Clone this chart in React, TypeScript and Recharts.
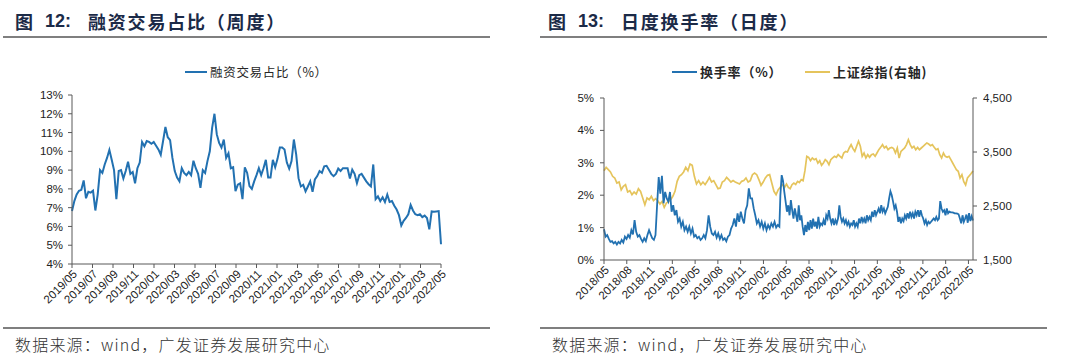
import React from 'react';
import { LineChart, Line, XAxis, YAxis } from 'recharts';

// ---------- Figure 12: weekly margin-trading share (%) ----------
const marginTickLabels = [
  '2019/05', '2019/07', '2019/09', '2019/11', '2020/01', '2020/03', '2020/05', '2020/07', '2020/09', '2020/11',
  '2021/01', '2021/03', '2021/05', '2021/07', '2021/09', '2021/11', '2022/01', '2022/03', '2022/05',
];
const marginShare = [
  6.82, 7.35, 7.7, 7.9, 7.95, 8.45, 7.5, 7.85, 7.8, 7.9, 6.85, 7.7, 9.0, 8.85, 9.3, 9.65, 10.08, 9.55, 9.0, 7.45,
  8.95, 9.0, 8.55, 8.95, 9.45, 8.8, 8.9, 8.3, 9.1, 9.4, 10.5, 10.27, 10.55, 10.5, 10.4, 10.5, 10.3, 10.1, 9.82, 10.55,
  11.3, 10.75, 10.6, 9.65, 8.95, 8.6, 8.4, 9.1, 8.85, 8.73, 8.9, 8.73, 9.5, 9.1, 8.8, 8.05, 9.0, 8.85, 9.48, 10.0,
  11.25, 12.0, 10.9, 10.45, 10.2, 10.63, 9.65, 9.9, 9.1, 9.15, 7.88, 8.23, 8.3, 7.45, 9.15, 8.85, 8.15, 8.0,
  8.4, 8.73, 9.1, 8.73, 9.1, 9.55, 8.6, 8.6, 9.55, 9.15, 9.6, 10.2, 10.2, 10.1, 9.4, 9.08, 9.48, 10.63,
  9.82, 8.57, 8.13, 8.22, 7.87, 8.13, 8.4, 7.85, 8.5, 8.68, 8.95, 8.85, 9.2, 9.23, 9.02, 8.8, 8.68, 8.8, 9.08, 8.95,
  9.1, 9.1, 9.1, 8.55, 9.02, 8.8, 8.3, 8.73, 8.8, 8.6, 8.4, 8.25, 8.13, 9.3,
  7.45, 7.6, 7.35, 7.55, 7.3, 7.7, 7.3, 7.35, 7.1, 6.9, 6.6, 6.05,
  6.3, 6.45, 6.65, 7.15, 6.85, 6.65, 6.6, 6.65, 6.5, 6.58, 6.45, 5.85,
  6.8, 6.78, 6.8, 6.82, 5.05,
];
const marginSpanMonths = 36;

// ---------- Figure 13: daily turnover (%) and SSE Composite (right axis) ----------
const turnoverTickLabels = [
  '2018/05', '2018/08', '2018/11', '2019/02', '2019/05', '2019/08', '2019/11', '2020/02', '2020/05',
  '2020/08', '2020/11', '2021/02', '2021/05', '2021/08', '2021/11', '2022/02', '2022/05',
];
// 2018/05 - 2020/05
const turnoverEarly = [
  0.95, 0.72, 0.77, 0.65, 0.56, 0.58, 0.51, 0.56, 0.48, 0.56, 0.51, 0.62, 0.54, 0.72, 0.65, 0.77, 0.69, 0.92, 0.79, 1.23,
  0.87, 0.72, 0.77, 0.65, 0.56, 0.67, 0.58, 0.77, 0.92, 0.79, 0.67, 0.62, 0.77,
  1.7, 2.56, 2.05, 2.6, 1.75, 2.1, 1.9, 1.8, 2.1, 1.49, 1.69, 1.38, 1.54, 1.18, 1.28, 1.03, 1.18, 0.92, 1.03, 0.87,
  1.03, 0.82, 0.97, 0.72, 0.77, 0.67, 0.72, 0.62, 0.67, 0.77, 0.67, 0.92, 1.38, 1.03, 0.82, 0.77, 0.87, 0.69, 0.82,
  0.65, 0.77, 0.62, 0.67, 0.58, 0.72, 0.77, 0.97, 1.08, 1.28, 1.03, 1.44, 1.18, 1.49, 1.28, 1.13, 1.54, 1.69, 2.21,
  1.9, 1.9, 1.6, 1.38, 1.13, 1.23, 1.03, 1.18, 0.97, 1.13, 0.92, 1.08, 0.97, 1.13, 1.03, 1.18, 1.0, 1.08, 1.03,
];
// 2020/05 - 2022/05
const turnoverLate = [
  2.0, 2.62, 2.45, 2.1, 1.8, 1.49, 1.69, 1.38, 1.85, 1.54, 1.28, 1.59, 1.38, 1.18, 1.69, 1.23, 1.38, 1.03, 0.77, 1.08,
  0.87, 1.18, 0.92, 1.23, 0.97, 1.28, 1.03, 1.18, 0.97, 1.33, 1.03, 1.13, 1.08, 1.23, 1.08, 1.38, 1.28, 1.54, 1.28, 1.13,
  1.28, 1.08, 1.23, 1.13, 1.28, 1.69, 1.33, 1.18, 1.28, 1.13, 1.23, 1.08, 1.18, 1.03, 1.13, 1.08, 1.23, 1.03, 1.13, 1.03,
  1.28, 1.13, 1.33, 1.18, 1.28, 1.13, 1.38, 1.23, 1.33, 1.23, 1.49, 1.33, 1.54, 1.38, 1.49, 1.59, 1.44, 1.69, 1.49, 1.59,
  1.44, 1.54, 1.64, 1.9, 2.12, 2.0, 1.8, 1.59, 1.69, 1.49, 1.18, 1.33, 1.13, 1.28, 1.2, 1.38, 1.28, 1.44, 1.28, 1.49,
  1.33, 1.44, 1.28, 1.49, 1.38, 1.54, 1.33, 1.54, 1.38, 1.28, 1.13, 1.23, 1.08, 1.18, 1.13, 1.18, 1.23, 1.28, 1.23, 1.33,
  1.23, 1.28, 1.82, 1.59, 1.49, 1.54, 1.38, 1.59, 1.44, 1.49, 1.47, 1.47, 1.46, 1.44, 1.44, 1.43, 1.41, 1.28, 1.13, 1.38,
  1.18, 1.28, 1.4, 1.15, 1.45, 1.2, 1.35, 1.22,
];
const sseEarly = [
  3154, 3216, 3173, 3130, 3050, 3019, 2926, 2944, 2800, 2864, 2895, 2759, 2784, 2710, 2759, 2722, 2820, 2770, 2648, 2525,
  2648, 2617, 2679, 2598, 2636, 2598, 2537, 2586, 2475, 2555, 2586, 2617, 2679, 2772, 2957, 3050, 3080, 3130, 3216, 3154,
  3278, 3253, 3050, 2907, 2970, 2895, 2944, 2895, 2957, 3031, 2944, 2970, 2895, 2821, 2833, 2944, 2970, 3031, 2988, 2944,
  2970, 2944, 2926, 2907, 2957, 2970, 3019, 2944, 2970, 3080, 3111, 3080, 2988, 2883, 2944, 3019, 3068, 3080, 2926, 2772,
  2710, 2802,
];
const sseLate = [
  2821, 2864, 2895, 2846, 2907, 2846, 2821, 2895, 2926, 2900, 2957, 2935, 2988, 2970, 3154, 3420, 3400, 3340, 3389, 3358,
  3377, 3296, 3340, 3253, 3296, 3358, 3327, 3265, 3358, 3389, 3420, 3401, 3451, 3420, 3389, 3481, 3512, 3500, 3574, 3636,
  3562, 3512, 3605, 3698, 3605, 3420, 3481, 3389, 3451, 3401, 3451, 3463, 3420, 3481, 3543, 3586, 3636, 3574, 3605, 3543,
  3574, 3586, 3562, 3481, 3574, 3389, 3512, 3543, 3574, 3636, 3728, 3636, 3574, 3605, 3543, 3586, 3543, 3574, 3605, 3636,
  3667, 3648, 3617, 3636, 3586, 3543, 3562, 3451, 3389, 3481, 3420, 3401, 3420, 3358, 3296, 3235, 3173, 3142, 3019, 3080,
  2950, 2890, 3020, 3060, 3100, 3150,
];
// month offsets (from 2018/05) covered by each reading segment
const earlyTurnoverSpan = [0, 23.1];
const lateTurnoverSpan = [23.23, 48.6];
const earlySseSpan = [0, 22.95];
const lateSseSpan = [23.06, 48.6];
const turnoverAxisEnd = 48.6;

const spread = (vals: number[], span: number[], key: string) =>
  vals.map((v, i) => ({ m: span[0] + ((span[1] - span[0]) * i) / (vals.length - 1), [key]: v }));

const marginData = marginShare.map((v, i) => ({ m: (i * marginSpanMonths) / (marginShare.length - 1), v }));
const turnoverData = [...spread(turnoverEarly, earlyTurnoverSpan, 't'), ...spread(turnoverLate, lateTurnoverSpan, 't')];
const sseData = [...spread(sseEarly, earlySseSpan, 's'), ...spread(sseLate, lateSseSpan, 's')];

const BLUE = '#2271B1';
const GOLD = '#E5C45C';
const AXIS = '#595959';
const CJK = '"Noto Sans CJK SC", "Noto Sans", sans-serif';
const LATIN = '"Liberation Sans", Arial, sans-serif';

const tickFont = { fontSize: 11.5, fill: '#222', fontFamily: LATIN };

const abs = (s: React.CSSProperties): React.CSSProperties => ({ position: 'absolute', whiteSpace: 'nowrap', ...s });

function Title({ x, num, text }: { x: number; num: string; text: string }) {
  const base = { top: 11, fontSize: 18, lineHeight: '20px', fontWeight: 700, color: '#1B2A47' };
  return (
    <>
      <div style={abs({ ...base, left: x, fontFamily: CJK })}>图</div>
      <div style={abs({ ...base, left: x + 30, fontFamily: LATIN })}>{num}</div>
      <div style={abs({ ...base, left: x + 73, fontFamily: CJK, letterSpacing: 1.8 })}>{text}</div>
    </>
  );
}

function Frame({ x, w }: { x: number; w: number }) {
  return (
    <>
      <div style={abs({ left: x, top: 36, width: w, height: 2, background: '#7F7F7F' })} />
      <div style={abs({ left: x, top: 327, width: w, height: 1.5, background: '#7F7F7F' })} />
      <div
        style={abs({
          left: x + 12,
          top: 335,
          fontSize: 16,
          lineHeight: '18px',
          fontFamily: CJK,
          fontWeight: 300,
          color: '#333',
          letterSpacing: 1.2,
        })}
      >
        数据来源：wind，广发证券发展研究中心
      </div>
    </>
  );
}

function LegendItem({ x, lineW, color, label, bold }: { x: number; lineW: number; color: string; label: string; bold?: boolean }) {
  return (
    <>
      <div style={abs({ left: x, top: 71, width: lineW, height: 2, background: color })} />
      <div
        style={abs({
          left: x + lineW + 3,
          top: 64,
          fontSize: bold ? 13 : 12.5,
          lineHeight: '16px',
          fontFamily: CJK,
          fontWeight: bold ? 700 : 400,
          color: '#262626',
          letterSpacing: bold ? 0.8 : 0.7,
        })}
      >
        {label}
      </div>
    </>
  );
}

export default function App() {
  const marginTicks = marginTickLabels.map((_, i) => i * 2);
  const turnoverTicks = turnoverTickLabels.map((_, i) => i * 3);
  return (
    <div style={{ position: 'absolute', left: 0, top: 0, width: 1079, height: 359, background: '#fff', overflow: 'hidden' }}>
      <Title x={15} num="12:" text="融资交易占比（周度）" />
      <Title x={548} num="13:" text="日度换手率（日度）" />
      <Frame x={3} w={487} />
      <Frame x={540} w={507} />

      <LegendItem x={185} lineW={22} color={BLUE} label="融资交易占比（%）" />
      <LegendItem x={672} lineW={25} color={BLUE} label="换手率（%）" bold />
      <LegendItem x={805} lineW={25} color={GOLD} label="上证综指(右轴)" bold />

      <div style={abs({ left: 0, top: 0 })}>
        <LineChart width={540} height={359} data={marginData} margin={{ top: 95, right: 99, bottom: 45, left: 32 }}>
          <XAxis
            type="number"
            dataKey="m"
            domain={[0, marginSpanMonths]}
            ticks={marginTicks}
            interval={0}
            tickFormatter={(v: number) => marginTickLabels[Math.round(v / 2)]}
            angle={-45}
            textAnchor="end"
            height={50}
            tickSize={4}
            tickMargin={1}
            stroke={AXIS}
            tick={tickFont}
          />
          <YAxis
            type="number"
            domain={[4, 13]}
            ticks={[4, 5, 6, 7, 8, 9, 10, 11, 12, 13]}
            interval={0}
            tickFormatter={(v: number) => `${v}%`}
            width={40}
            tickSize={4}
            tickMargin={5}
            stroke={AXIS}
            tick={tickFont}
          />
          <Line dataKey="v" stroke={BLUE} strokeWidth={2} dot={false} isAnimationActive={false} />
        </LineChart>
      </div>

      <div style={abs({ left: 540, top: 0 })}>
        <LineChart width={539} height={359} margin={{ top: 98, right: 56, bottom: 49, left: 24 }}>
          <XAxis
            type="number"
            dataKey="m"
            domain={[0, turnoverAxisEnd]}
            ticks={turnoverTicks}
            interval={0}
            tickFormatter={(v: number) => turnoverTickLabels[Math.round(v / 3)]}
            angle={-45}
            textAnchor="end"
            height={50}
            tickSize={4}
            tickMargin={1}
            stroke={AXIS}
            tick={tickFont}
          />
          <YAxis
            yAxisId="left"
            type="number"
            domain={[0, 5]}
            ticks={[0, 1, 2, 3, 4, 5]}
            interval={0}
            tickFormatter={(v: number) => `${v}%`}
            width={40}
            tickSize={4}
            tickMargin={6}
            stroke={AXIS}
            tick={tickFont}
          />
          <YAxis
            yAxisId="right"
            orientation="right"
            type="number"
            domain={[1500, 4500]}
            ticks={[1500, 2500, 3500, 4500]}
            interval={0}
            tickFormatter={(v: number) => v.toLocaleString('en-US')}
            width={50}
            tickSize={4}
            tickMargin={6}
            stroke={AXIS}
            tick={tickFont}
          />
          <Line
            yAxisId="right"
            data={sseData}
            dataKey="s"
            stroke={GOLD}
            strokeWidth={1.7}
            dot={false}
            isAnimationActive={false}
          />
          <Line
            yAxisId="left"
            data={turnoverData}
            dataKey="t"
            stroke={BLUE}
            strokeWidth={1.8}
            dot={false}
            isAnimationActive={false}
          />
        </LineChart>
      </div>
    </div>
  );
}
